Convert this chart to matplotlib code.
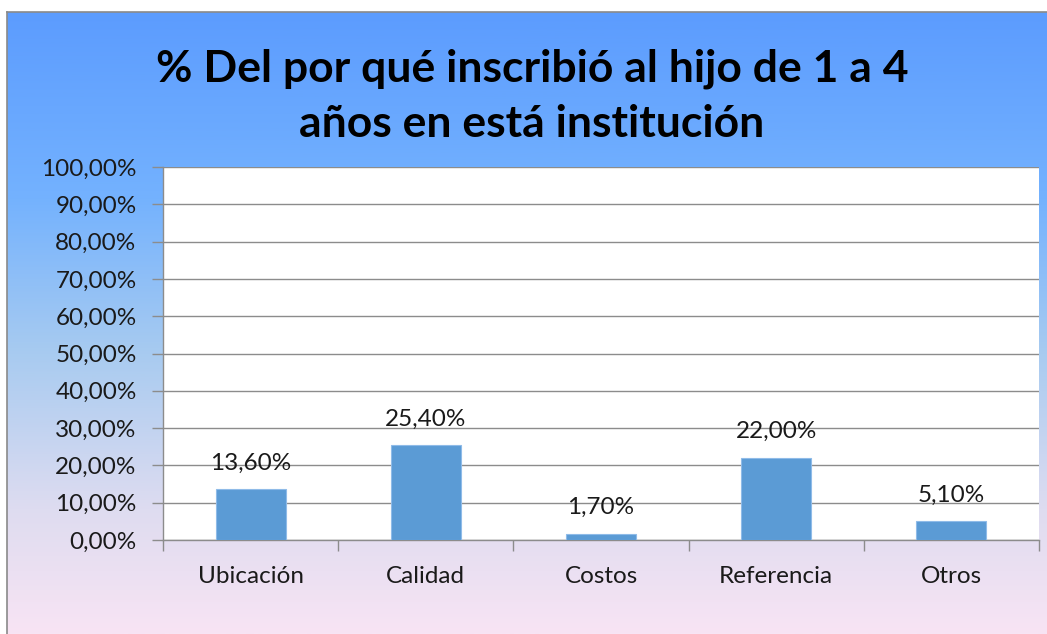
import numpy as np
import matplotlib.pyplot as plt
from matplotlib.colors import LinearSegmentedColormap
from matplotlib.ticker import FuncFormatter, MultipleLocator

categories = ["Ubicación", "Calidad", "Costos", "Referencia", "Otros"]
values = [13.6, 25.4, 1.7, 22.0, 5.1]
title = "% Del por qué inscribió al hijo de 1 a 4\naños en está institución"

plt.rcParams['font.family'] = ['Lato', 'DejaVu Sans']

W, H = 1047, 634
fig = plt.figure(figsize=(W / 100, H / 100), dpi=100)
fig.patch.set_facecolor("white")

# background gradient panel
bg = fig.add_axes([7 / W, 0, 1 - 7 / W, 1 - 12 / H])
bg.set_zorder(0)
cmap = LinearSegmentedColormap.from_list(
    "bg", [(0.0, "#5c9cfe"), (0.3, "#74b2fe"), (0.55, "#a8cbf0"),
           (0.8, "#dedcf0"), (1.0, "#f8e4f4")])
grad = np.linspace(0, 1, 256).reshape(-1, 1)
bg.imshow(grad, aspect="auto", cmap=cmap, extent=[0, 1, 0, 1], origin="upper")
bg.set_xlim(0, 1)
bg.set_ylim(0, 1)
bg.set_xticks([])
bg.set_yticks([])
for s in ["top", "left"]:
    bg.spines[s].set_color("#8a8a8a")
    bg.spines[s].set_linewidth(1.2)
for s in ["bottom", "right"]:
    bg.spines[s].set_visible(False)

fig.text(532 / W, 1 - 96 / H, title, ha="center", va="center",
         fontsize=32, fontweight="bold", color="black", linespacing=1.45)

left, right, top, bottom = 163, 1039, 167, 540
ax = fig.add_axes([left / W, 1 - bottom / H, (right - left) / W, (bottom - top) / H])
ax.set_zorder(1)
ax.set_facecolor("white")
x = np.arange(len(categories))
bars = ax.bar(x, values, width=0.4, color="#5b9bd5", edgecolor="#8fbbe8",
              linewidth=0.8, zorder=3)
for xi, v in zip(x, values):
    ax.text(xi, v + 7.0, f"{v:.2f}%".replace(".", ","), ha="center", va="center",
            fontsize=17.5, color="#1a1a1a")

ax.set_xlim(-0.5, len(categories) - 0.5)
ax.set_ylim(0, 100)
ax.yaxis.set_major_locator(MultipleLocator(10))
ax.yaxis.set_major_formatter(FuncFormatter(lambda v, p: f"{v:.2f}%".replace(".", ",")))
ax.grid(axis="y", color="#8c8c8c", linewidth=1.0, zorder=0)
ax.set_axisbelow(True)
ax.set_xticks(x)
ax.set_xticklabels(categories)
ax.set_xticks(np.arange(-0.5, len(categories)), minor=True)
ax.tick_params(axis="x", which="major", length=0, pad=19, labelsize=17.5, labelcolor="#1a1a1a")
ax.tick_params(axis="x", which="minor", length=8, color="#8c8c8c", width=1)
ax.tick_params(axis="y", length=8, color="#8c8c8c", width=1, labelsize=17.5,
               labelcolor="#1a1a1a", pad=11)
for s in ["top", "right"]:
    ax.spines[s].set_visible(False)
for s in ["left", "bottom"]:
    ax.spines[s].set_color("#8c8c8c")
    ax.spines[s].set_linewidth(1)

fig.savefig("out.png", dpi=100)
